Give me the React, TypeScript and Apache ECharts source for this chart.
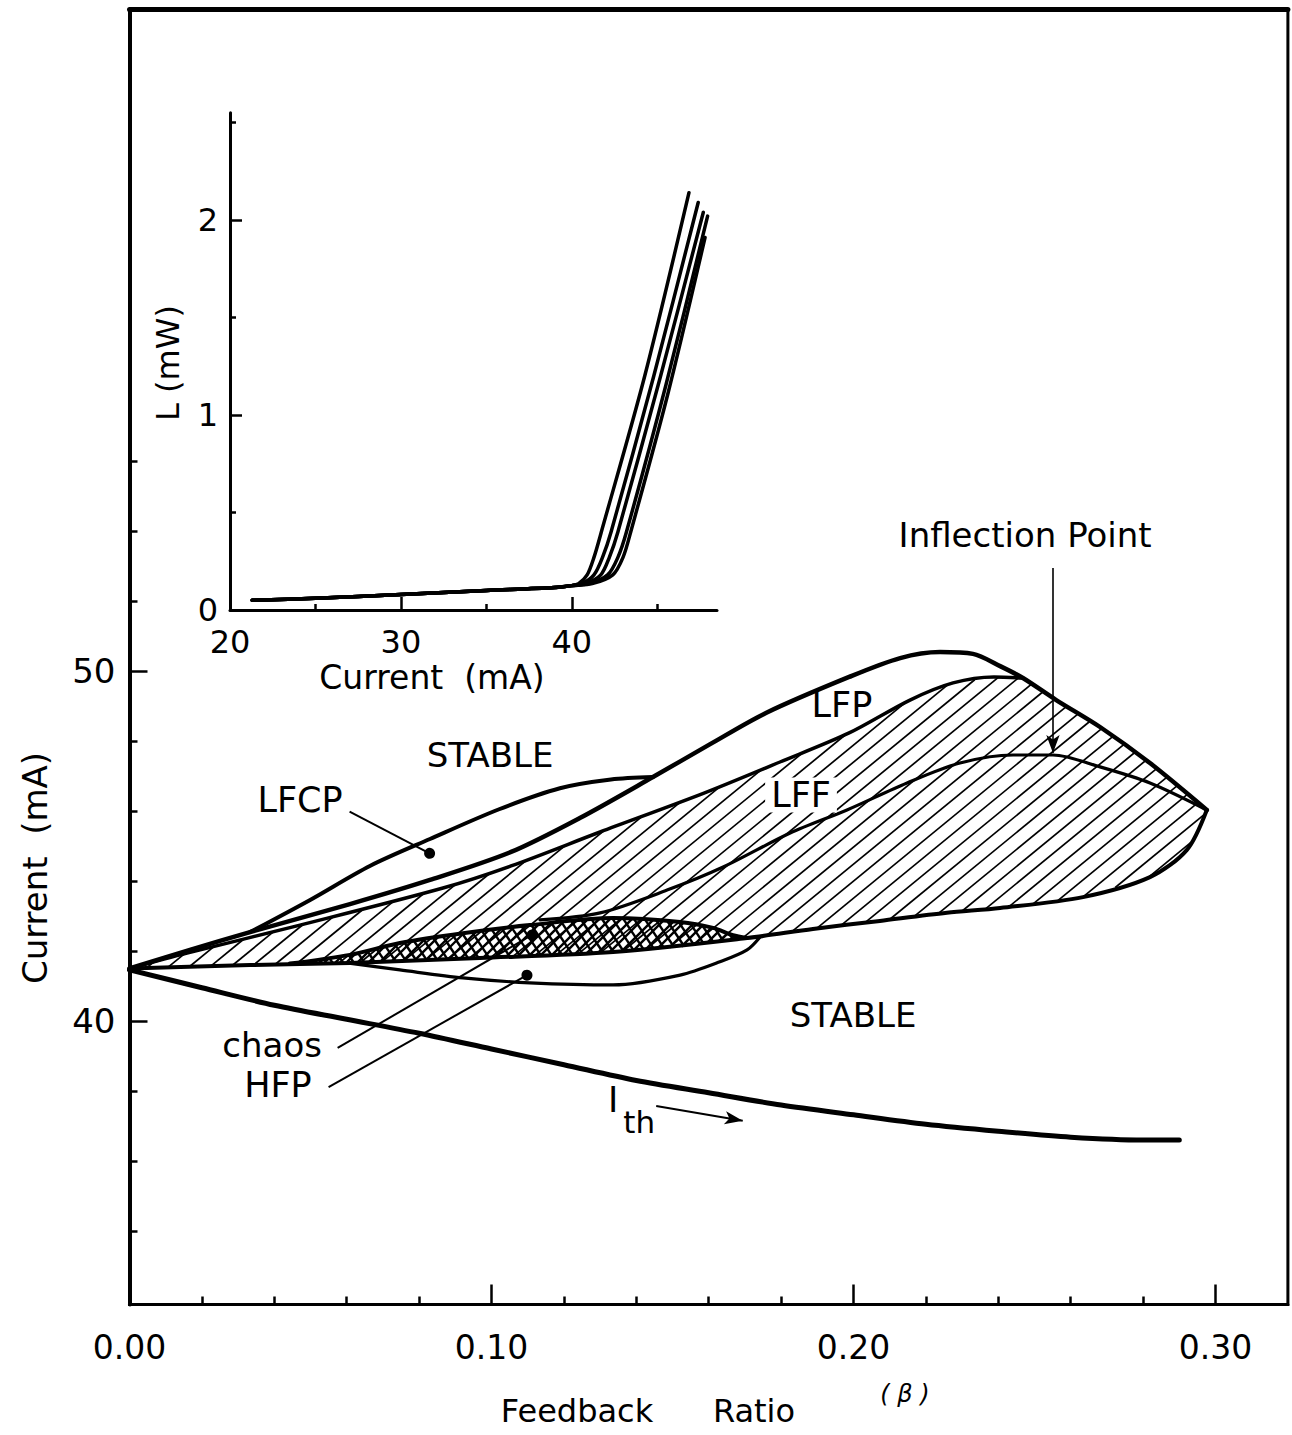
import React, { useEffect, useRef } from "react";
import * as echarts from "echarts";

type P = [number, number];

// ---------------- main chart: Feedback ratio (beta) vs Current (mA) ----------------
const X_MAJOR = [0, 0.1, 0.2, 0.3];
const X_MINOR = [0.02, 0.04, 0.06, 0.08, 0.12, 0.14, 0.16, 0.18, 0.22, 0.24, 0.26, 0.28];
const Y_MAJOR = [40, 50];
const Y_MINOR = [34, 36, 38, 42, 44, 46, 48, 52, 54, 56];

const ITH: P[] = [
  [0, 41.46], [0.02, 40.95], [0.04, 40.45], [0.06, 40.05], [0.08, 39.65], [0.1, 39.2],
  [0.12, 38.75], [0.14, 38.3], [0.16, 37.95], [0.18, 37.6], [0.2, 37.32], [0.22, 37.05],
  [0.24, 36.85], [0.26, 36.68], [0.28, 36.6], [0.29, 36.6],
];
const LFP_TOP: P[] = [
  [0, 41.5], [0.0167, 42.03], [0.0333, 42.54], [0.0609, 43.34], [0.083, 44.03], [0.1054, 44.83],
  [0.1244, 45.8], [0.1446, 46.97], [0.1604, 47.91], [0.1758, 48.8], [0.1988, 49.83], [0.2129, 50.37],
  [0.2239, 50.54], [0.233, 50.49], [0.2405, 50.14], [0.2468, 49.8], [0.256, 49.17], [0.2681, 48.4],
  [0.2819, 47.37], [0.2976, 46.03],
];
const LFCP_TOP: P[] = [
  [0.0333, 42.54], [0.0499, 43.46], [0.0664, 44.43], [0.083, 45.2], [0.1021, 46.05],
  [0.1189, 46.65], [0.133, 46.9], [0.1446, 46.97],
];
const LFF_TOP: P[] = [
  [0, 41.5], [0.0159, 41.94], [0.0471, 42.74], [0.0866, 43.8], [0.1054, 44.43], [0.13, 45.4],
  [0.1587, 46.51], [0.1797, 47.4], [0.1988, 48.23], [0.2156, 49.17], [0.2275, 49.66],
  [0.2388, 49.83], [0.2468, 49.8],
];
const INFLECTION: P[] = [
  [0.1134, 42.89], [0.13, 43.09], [0.1485, 43.74], [0.164, 44.4], [0.1825, 45.37], [0.1982, 46.03],
  [0.2148, 46.8], [0.2294, 47.37], [0.2441, 47.6], [0.2551, 47.6], [0.2681, 47.26], [0.2819, 46.8],
  [0.2976, 46.03],
];
const LFF_BOTTOM: P[] = [
  [0, 41.5], [0.0333, 41.6], [0.0609, 41.66], [0.0968, 41.8], [0.1336, 41.97], [0.1706, 42.37],
  [0.1888, 42.63], [0.2073, 42.86], [0.2258, 43.09], [0.2405, 43.23], [0.2634, 43.54],
  [0.2819, 44.11], [0.2921, 44.89], [0.2976, 46.03],
];
const CHAOS_TOP: P[] = [
  [0.0443, 41.64], [0.0609, 41.89], [0.0747, 42.23], [0.0921, 42.51], [0.1106, 42.74],
  [0.1336, 42.94], [0.1521, 42.83], [0.1612, 42.66], [0.1667, 42.45], [0.1706, 42.37],
];
const CHAOS_BOTTOM: P[] = [
  [0.0443, 41.64], [0.0747, 41.72], [0.0968, 41.8], [0.1153, 41.89], [0.1336, 41.97],
  [0.1521, 42.12], [0.1612, 42.25], [0.1706, 42.37],
];
const HFP_BOTTOM: P[] = [
  [0.0601, 41.66], [0.0747, 41.46], [0.0921, 41.23], [0.1106, 41.09], [0.1336, 41.03],
  [0.1521, 41.31], [0.1631, 41.69], [0.1706, 42.03], [0.1742, 42.4],
];

// annotation texts and their centres [beta, current]
const NOTE_TEXTS = ["STABLE", "STABLE", "LFCP", "LFP", "LFF", "chaos", "HFP", "I", "th", "Inflection Point"];
const NOTE_POS: P[] = [
  [0.0996, 47.6], [0.1999, 40.17], [0.0471, 46.31], [0.1968, 49.03], [0.1855, 46.46],
  [0.0394, 39.31], [0.041, 38.17], [0.1336, 37.74], [0.1408, 37.12], [0.2474, 53.89],
];
// pointer lines: from -> to
const POINTER_FROM: P[] = [[0.0608, 45.98], [0.0575, 39.23], [0.055, 38.11], [0.1455, 37.57], [0.2551, 52.94]];
const POINTER_TO: P[] = [[0.0829, 44.79], [0.1112, 42.46], [0.1098, 41.31], [0.1694, 37.15], [0.2551, 47.66]];
const POINTER_END = ["circle", "circle", "circle", "arrow", "arrow"];

// ---------------- inset: L (mW) vs Current (mA) ----------------
const INSET_X_LABELS = [20, 30, 40];
const INSET_X_MAJOR = [30, 40];
const INSET_X_MINOR = [25, 35, 45];
const INSET_Y_LABELS = [0, 1, 2];
const INSET_Y_MAJOR = [1, 2];
const INSET_Y_MINOR = [0.5, 1.5, 2.5];
const LI_SUB: P[] = [[21.3, 0.05], [25, 0.06], [30, 0.08], [35, 0.1], [39, 0.115], [40, 0.125]];
const LI_KNEE_1: P[] = [[40.4, 0.135], [40.9, 0.18], [41.3, 0.27], [41.73, 0.4], [44.27, 1.2], [46.86, 2.14]];
const LI_KNEE_2: P[] = [[40.6, 0.135], [41.3, 0.18], [41.8, 0.27], [42.3, 0.4], [44.8, 1.2], [47.4, 2.09]];
const LI_KNEE_3: P[] = [[40.8, 0.135], [41.7, 0.18], [42.2, 0.27], [42.7, 0.4], [45.2, 1.2], [47.7, 2.04]];
const LI_KNEE_4: P[] = [[41.0, 0.135], [42.1, 0.18], [42.7, 0.27], [43.2, 0.4], [45.5, 1.15], [47.95, 2.02]];
const LI_KNEE_5: P[] = [[41.2, 0.135], [42.4, 0.18], [43.0, 0.27], [43.45, 0.4], [45.6, 1.1], [47.8, 1.91]];
const LI_KNEES = [LI_KNEE_1, LI_KNEE_2, LI_KNEE_3, LI_KNEE_4, LI_KNEE_5];

const FONT = "'DejaVu Sans', 'Liberation Sans', sans-serif";
const BLACK = "#000";

function hatch(poly: number[][], k: number, step: number, width: number) {
  const out: any[] = [];
  let cMin = Infinity;
  let cMax = -Infinity;
  poly.forEach((p) => {
    const c = p[1] + k * p[0];
    if (c < cMin) cMin = c;
    if (c > cMax) cMax = c;
  });
  for (let c = Math.ceil(cMin / step) * step; c <= cMax; c += step) {
    const xs: number[] = [];
    for (let i = 0; i < poly.length; i++) {
      const a = poly[i];
      const b = poly[(i + 1) % poly.length];
      const fa = a[1] + k * a[0] - c;
      const fb = b[1] + k * b[0] - c;
      if (fa < 0 !== fb < 0) xs.push(a[0] + (fa / (fa - fb)) * (b[0] - a[0]));
    }
    xs.sort((m, n) => m - n);
    for (let j = 0; j + 1 < xs.length; j += 2) {
      out.push({
        type: "line",
        shape: { x1: xs[j], y1: c - k * xs[j], x2: xs[j + 1], y2: c - k * xs[j + 1] },
        style: { stroke: BLACK, lineWidth: width },
      });
    }
  }
  return out;
}

function line(data: P[], width: number, xi = 0, yi = 0, smooth = 0.3) {
  return {
    type: "line",
    data,
    xAxisIndex: xi,
    yAxisIndex: yi,
    showSymbol: false,
    symbol: "none",
    smooth,
    silent: true,
    z: 3,
    lineStyle: { color: BLACK, width, cap: "round", join: "round" },
  };
}

function axis(gridIndex: number, min: number, max: number, position: string, extra: any) {
  return {
    type: "value",
    gridIndex,
    min,
    max,
    position,
    silent: true,
    splitLine: { show: false },
    axisLine: { show: false, onZero: false },
    axisTick: { show: false },
    axisLabel: { show: false },
    ...extra,
  };
}

function txt(text: string, x: number, y: number, fontSize: number, rotation = 0, extra: any = {}) {
  return {
    type: "text",
    x,
    y,
    rotation,
    style: {
      text,
      fontSize,
      fontFamily: FONT,
      fill: BLACK,
      align: "center",
      verticalAlign: "middle",
      textAlign: "center",
      textVerticalAlign: "middle",
      ...extra,
    },
  };
}

function buildOption() {
  const lastTop = LFF_TOP[LFF_TOP.length - 1][0];
  const option: any = {
    animation: false,
    backgroundColor: "#fff",
    grid: [
      { left: 129.5, top: 9.5, width: 1158.4, height: 1295, show: true, borderColor: BLACK, borderWidth: 3, backgroundColor: "transparent" },
      { left: 230, top: 112.75, width: 487, height: 497.25, show: false },
    ],
    xAxis: [
      axis(0, 0, 0.32, "bottom", {
        axisLine: { show: true, onZero: false, lineStyle: { color: BLACK, width: 3 } },
        axisTick: { show: true, inside: true, length: 20, customValues: X_MAJOR.slice(1), lineStyle: { color: BLACK, width: 2.5 } },
        axisLabel: { show: true, customValues: X_MAJOR, formatter: (v: number) => v.toFixed(2), margin: 26, fontSize: 33, color: BLACK, fontFamily: FONT },
      }),
      axis(0, 0, 0.32, "bottom", {
        axisTick: { show: true, inside: true, length: 8, customValues: X_MINOR, lineStyle: { color: BLACK, width: 2.5 } },
      }),
      axis(0, 0, 0.32, "top", {
        axisLine: { show: true, onZero: false, lineStyle: { color: BLACK, width: 5 } },
      }),
      axis(1, 20, 48.5, "bottom", {
        axisLine: { show: true, onZero: false, lineStyle: { color: BLACK, width: 3 } },
        axisTick: { show: true, inside: true, length: 13, customValues: INSET_X_MAJOR, lineStyle: { color: BLACK, width: 2.5 } },
        axisLabel: { show: true, customValues: INSET_X_LABELS, margin: 16, fontSize: 32, color: BLACK, fontFamily: FONT },
      }),
      axis(1, 20, 48.5, "bottom", {
        axisTick: { show: true, inside: true, length: 6, customValues: INSET_X_MINOR, lineStyle: { color: BLACK, width: 2.5 } },
      }),
    ],
    yAxis: [
      axis(0, 31.9, 68.9, "left", {
        axisLine: { show: true, onZero: false, lineStyle: { color: BLACK, width: 4 } },
        axisTick: { show: true, inside: true, length: 18, customValues: Y_MAJOR, lineStyle: { color: BLACK, width: 2.5 } },
        axisLabel: { show: true, customValues: Y_MAJOR, margin: 14, fontSize: 34, color: BLACK, fontFamily: FONT },
      }),
      axis(0, 31.9, 68.9, "left", {
        axisTick: { show: true, inside: true, length: 8, customValues: Y_MINOR, lineStyle: { color: BLACK, width: 2.5 } },
      }),
      axis(1, 0, 2.55, "left", {
        axisLine: { show: true, onZero: false, lineStyle: { color: BLACK, width: 3 } },
        axisTick: { show: true, inside: true, length: 12, customValues: INSET_Y_MAJOR, lineStyle: { color: BLACK, width: 2.5 } },
        axisLabel: { show: true, customValues: INSET_Y_LABELS, margin: 12, fontSize: 32, color: BLACK, fontFamily: FONT },
      }),
      axis(1, 0, 2.55, "left", {
        axisTick: { show: true, inside: true, length: 6, customValues: INSET_Y_MINOR, lineStyle: { color: BLACK, width: 2.5 } },
      }),
    ],
    graphic: [
      txt("Current  (mA)", 35, 868, 34, Math.PI / 2),
      txt("L (mW)", 168, 363, 32, Math.PI / 2),
      txt("Current  (mA)", 432, 677, 33),
      txt("Feedback", 577, 1411, 32),
      txt("Ratio", 754, 1411, 32),
      txt("( β )", 905, 1394, 24, 0, { fontStyle: "italic" }),
    ],
    series: [
      {
        type: "custom",
        xAxisIndex: 0,
        yAxisIndex: 0,
        silent: true,
        z: 1,
        clip: false,
        data: [[0.1, 42]],
        renderItem: (_params: any, api: any) => {
          const toPx = (arr: P[]) => arr.map((p) => api.coord(p));
          const lffPoly = toPx([
            ...LFF_TOP,
            ...LFP_TOP.filter((p) => p[0] > lastTop),
            ...LFF_BOTTOM.slice().reverse(),
          ]);
          const chaosPoly = toPx([...CHAOS_TOP, ...CHAOS_BOTTOM.slice().reverse()]);
          return {
            type: "group",
            children: [
              ...hatch(lffPoly, 0.82, 17, 1.7),
              ...hatch(chaosPoly, 1.0, 11, 2.4),
              ...hatch(chaosPoly, -1.5, 16, 2.4),
            ],
          };
        },
      },
      {
        ...line(ITH, 5),
        markLine: {
          silent: true,
          animation: false,
          symbol: ["none", "none"],
          label: { show: false },
          lineStyle: { color: BLACK, width: 2, type: "solid" },
          data: POINTER_FROM.map((f, i) => [
            { coord: f, symbol: "none" },
            {
              coord: POINTER_TO[i],
              symbol: POINTER_END[i],
              symbolSize: POINTER_END[i] === "circle" ? 11 : [10, 18],
              lineStyle: { width: i === 4 ? 1.6 : 2, color: BLACK },
              itemStyle: { color: BLACK },
            },
          ]),
        },
      },
      line(LFP_TOP, 4.5),
      line(LFCP_TOP, 4),
      line(LFF_TOP, 3.5),
      line(INFLECTION, 3.2),
      line(LFF_BOTTOM, 4),
      line(CHAOS_TOP, 4),
      line(HFP_BOTTOM, 3.2),
      ...LI_KNEES.map((k) => line([...LI_SUB, ...k], 3.5, 3, 2, 0.3)),
      {
        type: "scatter",
        xAxisIndex: 0,
        yAxisIndex: 0,
        silent: true,
        z: 5,
        symbolSize: 0.01,
        itemStyle: { color: BLACK, opacity: 1 },
        label: { show: true, position: "inside", color: BLACK, fontFamily: FONT, fontSize: 34, textBorderWidth: 0 },
        data: NOTE_POS.map((p, i) => ({
          value: p,
          label: {
            show: true,
            position: "inside",
            formatter: NOTE_TEXTS[i],
            color: BLACK,
            textBorderWidth: 0,
            fontFamily: FONT,
            fontSize: NOTE_TEXTS[i] === "th" ? 31 : NOTE_TEXTS[i].length <= 4 ? 35 : 34,
            backgroundColor: NOTE_TEXTS[i] === "LFF" ? "#fff" : "transparent",
            padding: NOTE_TEXTS[i] === "LFF" ? [0, 6] : 0,
          },
        })),
      },
    ],
  };
  return option;
}

export default function App() {
  const ref = useRef<HTMLDivElement>(null);
  useEffect(() => {
    document.body.style.margin = "0";
    const chart = echarts.init(ref.current as HTMLDivElement, undefined, { renderer: "svg" });
    chart.setOption(buildOption());
    return () => chart.dispose();
  }, []);
  return <div ref={ref} style={{ width: 1292, height: 1435, background: "#fff" }} />;
}
